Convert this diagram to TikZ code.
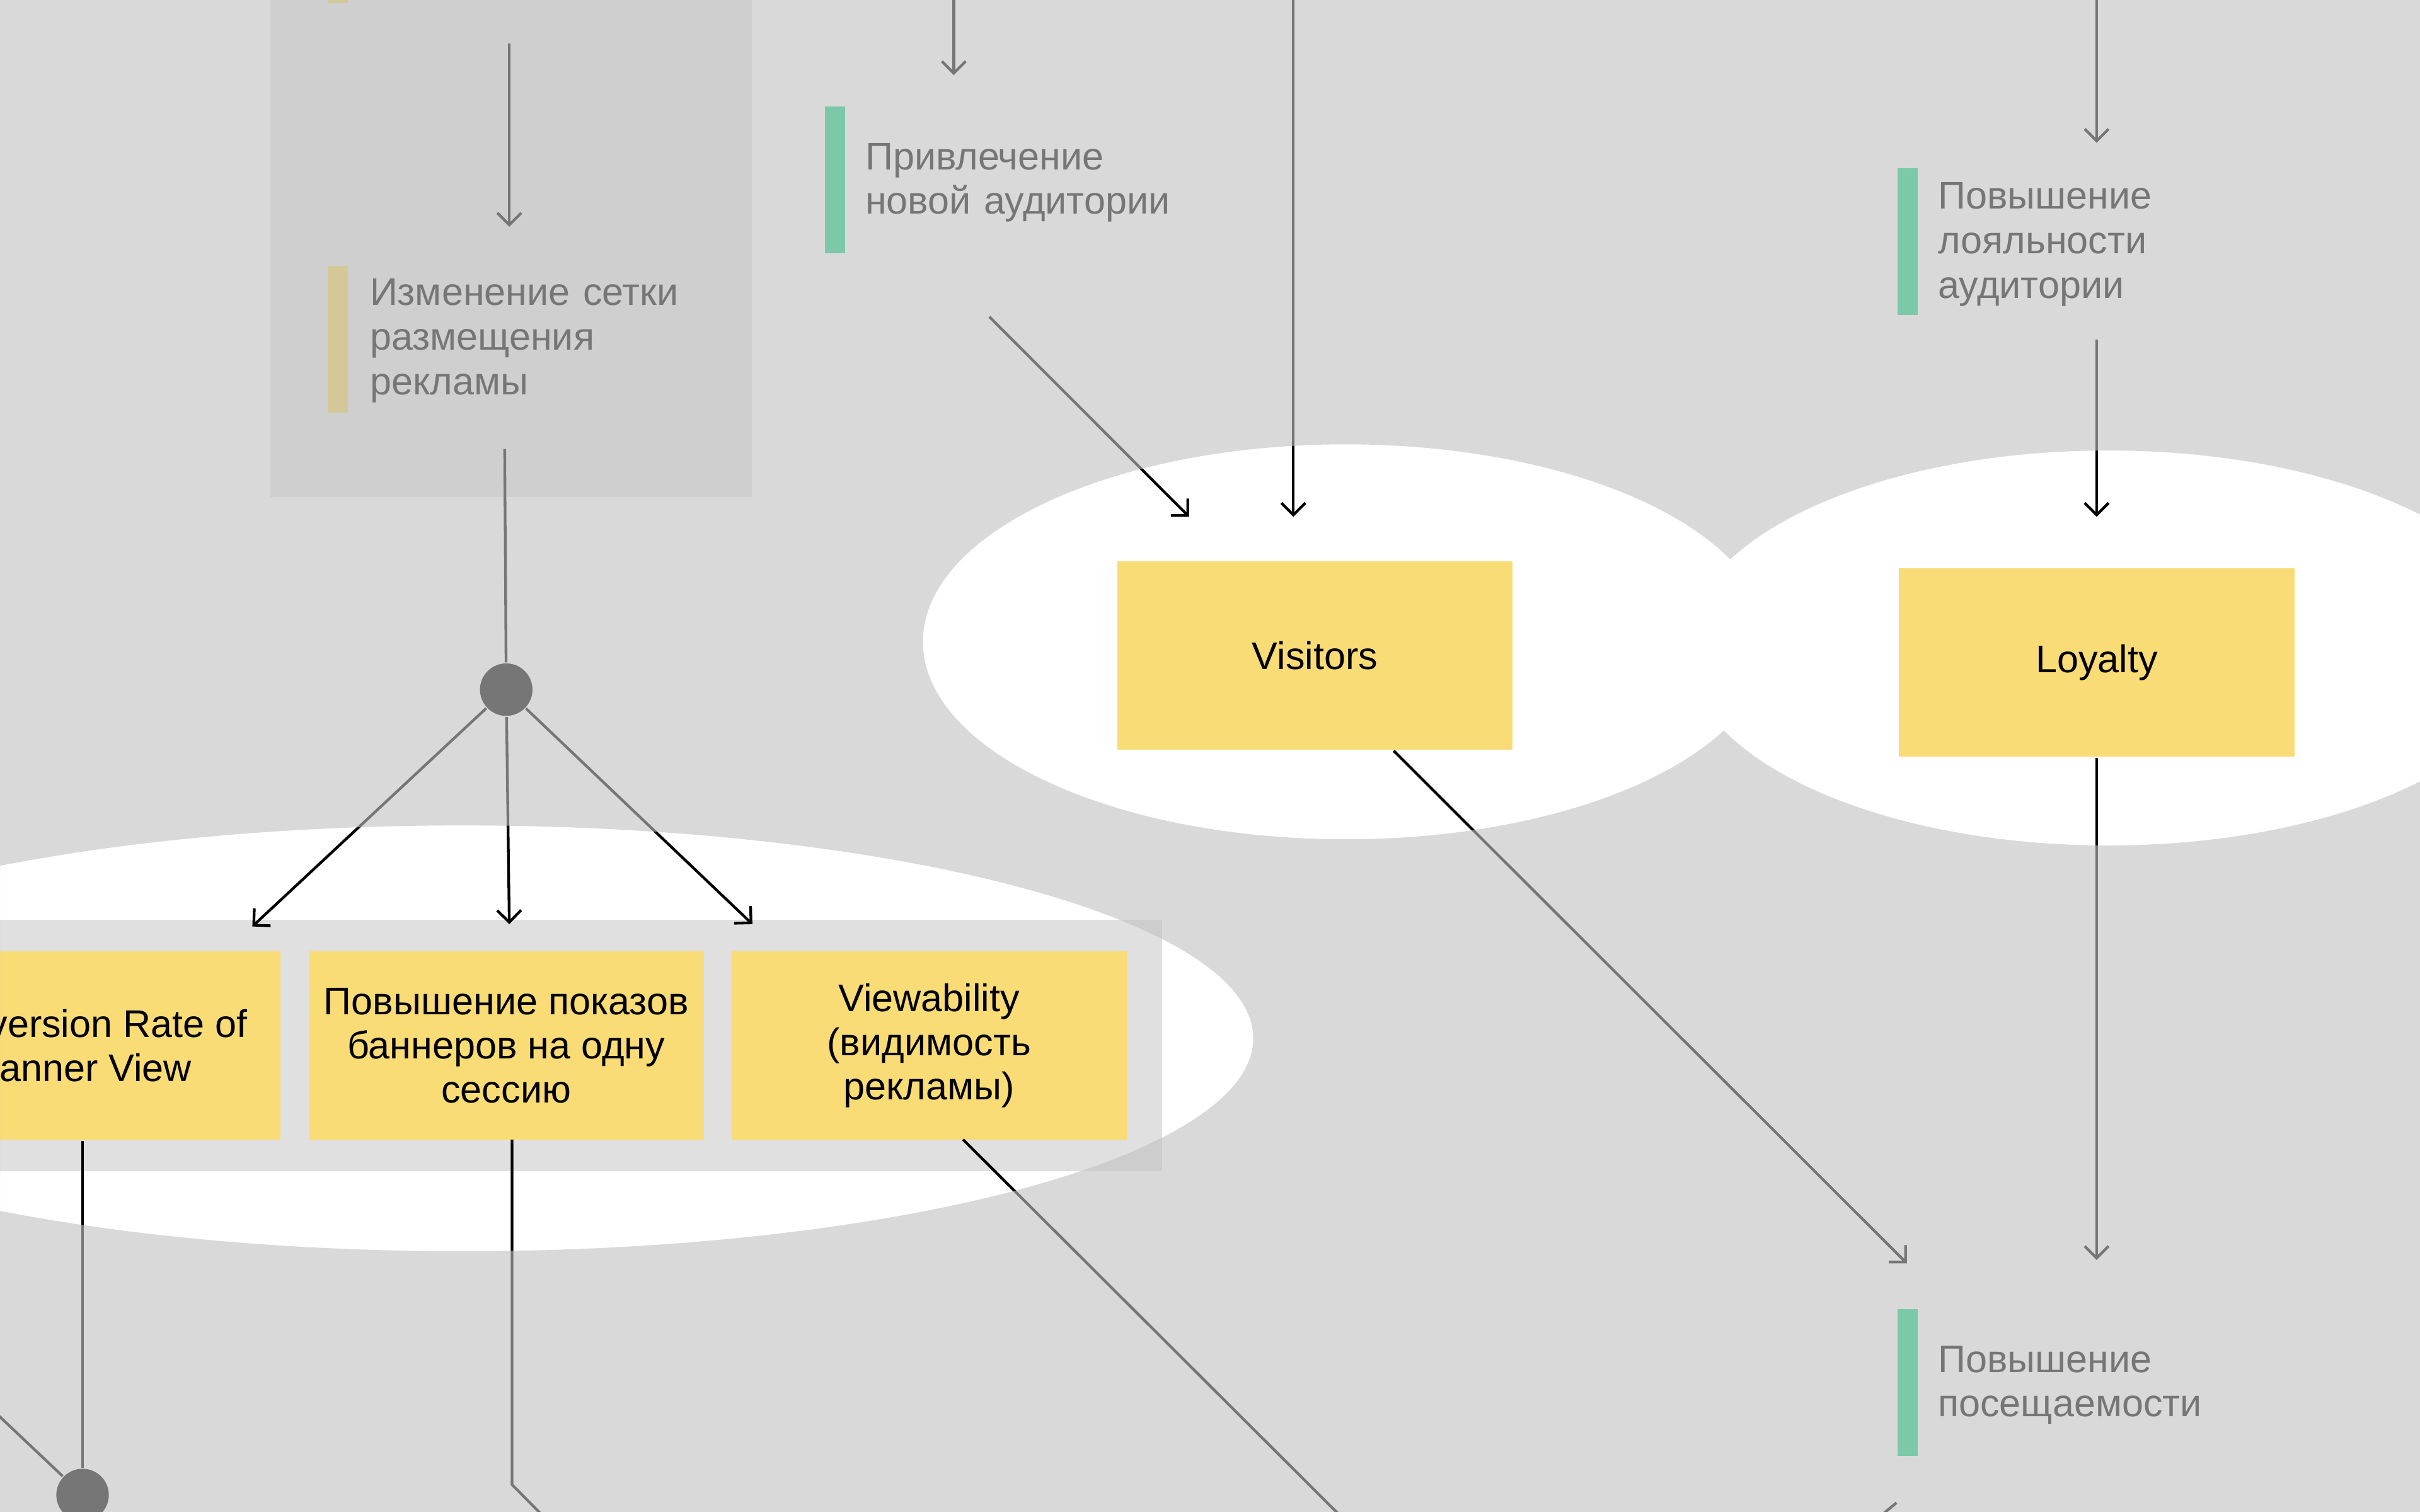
\documentclass[tikz,border=0pt]{standalone}
\usepackage{fontspec}
\setmainfont{Liberation Sans}
\usepackage{tikz}
\usetikzlibrary{arrows.meta}
\definecolor{BoxYellow}{RGB}{249,220,118}
\definecolor{MarkYellow}{RGB}{241,210,86}
\definecolor{MarkGreen}{RGB}{12,214,131}
\definecolor{PanelGray}{RGB}{230,230,230}
\definecolor{RowGray}{RGB}{224,224,224}
\definecolor{ShadeGray}{RGB}{194,194,194}

\begin{document}
\begin{tikzpicture}[x=0.01cm,y=-0.01cm]
  \tikzstyle{EdgeStyle}=[draw=black,line width=0.5pt,-{Straight Barb[length=2.2pt,width=4.4pt]}]
  \tikzstyle{LineStyle}=[draw=black,line width=0.5pt]
  \tikzset{BoxStyle/.style = {shape=rectangle,fill=BoxYellow,minimum width=2.56cm,minimum height=1.22cm,inner sep=0pt,align=center,font=\fontsize{7.1}{8.1}\selectfont}}
  \tikzset{MarkStyle/.style = {shape=rectangle,minimum width=0.13cm,minimum height=0.95cm,inner sep=0pt}}
  \tikzset{NoteStyle/.style = {anchor=base west,inner sep=0pt,align=left,text width=3cm,font=\fontsize{7.1}{8.2}\selectfont}}
  \tikzset{DotStyle/.style = {shape=circle,fill=black,minimum size=0.34cm,inner sep=0pt}}
  \useasboundingbox (0,0) rectangle (1568,980);
  \clip (0,0) rectangle (1568,980);
  \fill[white] (0,0) rectangle (1568,980);
  % panels
  \fill[PanelGray] (175,-10) rectangle (487,322);
  \fill[RowGray] (-10,596) rectangle (753,759);
  % notes TL
  \node[MarkStyle,fill=MarkYellow] (m_top) at (219,-45.5) {};
  \node[MarkStyle,fill=MarkYellow] (m_grid) at (219,220) {};
  \node[NoteStyle] (n_grid) at (239,198) {Изменение сетки\\размещения\\рекламы};
  % notes TM
  \node[MarkStyle,fill=MarkGreen] (m_new) at (541,116.5) {};
  \node[NoteStyle] (n_new) at (560,110) {Привлечение\\новой аудитории};
  % notes TR
  \node[MarkStyle,fill=MarkGreen] (m_loyal) at (1236,156.5) {};
  \node[NoteStyle] (n_loyal) at (1255,135.5) {Повышение\\лояльности\\аудитории};
  % notes BR
  \node[MarkStyle,fill=MarkGreen] (m_visit) at (1236,896) {};
  \node[NoteStyle] (n_visit) at (1255,889.5) {Повышение\\посещаемости};
  % metrics
  \node[BoxStyle] (vis) at (852,425) {Visitors};
  \node[BoxStyle] (loy) at (1358.5,429.5) {Loyalty};
  \node[BoxStyle] (cr) at (53.5,677.7) {Conversion Rate of\\Banner View};
  \node[BoxStyle] (bps) at (328,677.7) {Повышение показов\\баннеров на одну\\сессию};
  \node[BoxStyle] (vw) at (602,677.7) {Viewability\\(видимость\\рекламы)};
  % joints
  \node[DotStyle] (d_grid) at (328,447) {};
  \node[DotStyle] (d_cr) at (53.5,969) {};
  % free ends
  \coordinate (c_top) at (330,28);
  \coordinate (c_grid) at (330,147);
  \coordinate (c_gridout) at (327,291);
  \coordinate (c_cr) at (163.5,600.5);
  \coordinate (c_bps) at (330,599);
  \coordinate (c_vw) at (487.5,599);
  \coordinate (c_newin0) at (618,-5);
  \coordinate (c_newin) at (618,48.7);
  \coordinate (c_newout) at (641,205.3);
  \coordinate (c_vis1) at (770.5,335);
  \coordinate (c_visin0) at (838,-5);
  \coordinate (c_vis2) at (838,335);
  \coordinate (c_loyin0) at (1358.5,-5);
  \coordinate (c_loyin) at (1358.5,92.6);
  \coordinate (c_loyout) at (1358.5,220);
  \coordinate (c_loy) at (1358.5,335);
  \coordinate (c_visout) at (903,486.6);
  \coordinate (c_visit1) at (1235.6,818.9);
  \coordinate (c_visit2) at (1358.5,816.7);
  \coordinate (c_visitout) at (1228.8,974);
  \coordinate (c_visitend) at (1200,998);
  \coordinate (c_left) at (-30,890);
  \coordinate (c_bpsout) at (331.8,738.6);
  \coordinate (c_bpsbend) at (331.8,962.3);
  \coordinate (c_bpsend) at (370,1001);
  \coordinate (c_vwout) at (624,738.6);
  \coordinate (c_vwend) at (890,1004);
  % edges
  \draw[EdgeStyle] (c_top) -- (c_grid);
  \draw[LineStyle] (c_gridout) -- (d_grid);
  \draw[EdgeStyle] (d_grid) -- (c_cr);
  \draw[EdgeStyle] (d_grid) -- (c_bps);
  \draw[EdgeStyle] (d_grid) -- (c_vw);
  \draw[EdgeStyle] (c_newin0) -- (c_newin);
  \draw[EdgeStyle] (c_newout) -- (c_vis1);
  \draw[EdgeStyle] (c_visin0) -- (c_vis2);
  \draw[EdgeStyle] (c_loyin0) -- (c_loyin);
  \draw[EdgeStyle] (c_loyout) -- (c_loy);
  \draw[EdgeStyle] (c_visout) -- (c_visit1);
  \draw[EdgeStyle] (loy.south) -- (c_visit2);
  \draw[LineStyle] (c_visitout) -- (c_visitend);
  \draw[LineStyle] (cr.south -| d_cr) -- (d_cr);
  \draw[LineStyle] (c_left) -- (d_cr);
  \draw[LineStyle] (c_bpsout) -- (c_bpsbend) -- (c_bpsend);
  \draw[LineStyle] (c_vwout) -- (c_vwend);
  % shade
  \begin{scope}
    \clip (0,0) -- (0,980) -- (1568,980) -- (1568,0) -- cycle (872,416) ellipse [x radius=274,y radius=128];
    \clip (0,0) -- (0,980) -- (1568,980) -- (1568,0) -- cycle (1366,420) ellipse [x radius=274,y radius=128];
    \clip (0,0) -- (0,980) -- (1568,980) -- (1568,0) -- cycle (300,673) ellipse [x radius=512,y radius=138];
    \fill[ShadeGray,opacity=0.61] (0,0) rectangle (1568,980);
  \end{scope}
\end{tikzpicture}
\end{document}
